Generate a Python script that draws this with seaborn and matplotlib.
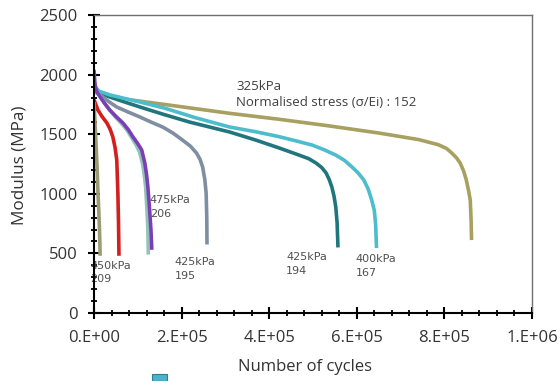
import numpy as np
import pandas as pd
import matplotlib
matplotlib.use("Agg")
import matplotlib.pyplot as plt
from matplotlib.patches import Rectangle
from matplotlib.ticker import MultipleLocator
import seaborn as sns

# ---- data (cycles, modulus MPa) ----
olivegray_x = [0, 1500, 3500, 5500, 7500, 9000, 11000, 12500, 13600, 14000]
olivegray_y = [1770, 1660, 1500, 1350, 1180, 1010, 850, 700, 560, 480]

red_x = [0, 3000, 9000, 18000, 29500, 37000, 43000, 48000, 52000, 54500, 56000, 57000]
red_y = [1790, 1760, 1703, 1650, 1594, 1540, 1477, 1390, 1284, 1007, 750, 480]

purple_x = [0, 2300, 6000, 13600, 24000, 36000, 50000, 66000, 78000, 89000, 100000, 109000,
            116000, 120000, 123000, 127000, 130000, 132000]
purple_y = [2040, 1913, 1860, 1815, 1760, 1703, 1650, 1594, 1540, 1477, 1420, 1367,
            1258, 1160, 1057, 864, 700, 530]

paleteal_x = [0, 3000, 8000, 15000, 25000, 36000, 50000, 64000, 76000, 86000, 96000, 104000,
              111000, 115000, 118000, 121000, 123000, 124000]
paleteal_y = [1950, 1890, 1850, 1810, 1755, 1700, 1640, 1585, 1530, 1470, 1410, 1350,
              1250, 1150, 1050, 860, 700, 490]

slate_x = [0, 8000, 20000, 35000, 52000, 78000, 105000, 130000, 157000, 180000, 202000, 220000,
           234000, 242000, 248000, 253000, 256000, 257500, 258000]
slate_y = [1880, 1840, 1812, 1770, 1728, 1686, 1644, 1602, 1560, 1510, 1451, 1400,
           1342, 1290, 1225, 1120, 1007, 800, 575]

darkteal_x = [0, 4000, 12000, 36000, 70000, 105000, 160000, 218000, 310000, 370000, 423000, 468000,
              490000, 507000, 520000, 530000, 537000, 543000, 548000, 552000, 555000, 557000]
darkteal_y = [1950, 1880, 1845, 1812, 1770, 1728, 1665, 1602, 1518, 1450, 1384, 1325,
              1295, 1258, 1220, 1174, 1120, 1057, 980, 889, 760, 550]

cyan_x = [0, 4000, 12000, 36000, 70000, 105000, 160000, 230000, 310000, 370000, 423000, 460000,
          498000, 525000, 552000, 572000, 589000, 603000, 616000, 626000, 634000, 640000, 643000, 645000]
cyan_y = [1940, 1890, 1860, 1830, 1800, 1770, 1720, 1640, 1560, 1520, 1479, 1445,
          1409, 1370, 1325, 1280, 1225, 1175, 1116, 1040, 948, 860, 740, 545]

olive_x = [85000, 150000, 230000, 310000, 423000, 536000, 650000, 741000, 786000, 805000, 816000,
           828000, 836000, 844000, 850000, 855000, 859000, 861000, 862000]
olive_y = [1787, 1755, 1715, 1675, 1625, 1570, 1510, 1455, 1412, 1380, 1345,
           1300, 1258, 1190, 1116, 1030, 948, 780, 612]

series = [
    ("olive", olive_x, olive_y, "#a8a060"),
    ("darkteal", darkteal_x, darkteal_y, "#21767e"),
    ("cyan", cyan_x, cyan_y, "#4cbdcc"),
    ("slate", slate_x, slate_y, "#7f8ea3"),
    ("paleteal", paleteal_x, paleteal_y, "#93c2ba"),
    ("purple", purple_x, purple_y, "#7b3fb5"),
    ("red", red_x, red_y, "#d41f1f"),
    ("olivegray", olivegray_x, olivegray_y, "#9c9c74"),
]

xtick_vals = [0, 200000, 400000, 600000, 800000, 1000000]
xtick_labels = ["0.E+00", "2.E+05", "4.E+05", "6.E+05", "8.E+05", "1.E+06"]
ytick_vals = [0, 500, 1000, 1500, 2000, 2500]

annotations = [
    ("325kPa", 325000, 1896),
    ("Normalised stress (σ/Ei) : 152", 325000, 1762),
]
small_labels = [
    ("475kPa\n206", 127000, 890),
    ("425kPa\n195", 184000, 370),
    ("425kPa\n194", 439000, 411),
    ("400kPa\n167", 598000, 395),
    ("450kPa\n209", -9000, 340),
]

# ---- plot ----
sns.set_style("white")
plt.rcParams["font.family"] = ["Open Sans", "DejaVu Sans"]

fig = plt.figure(figsize=(5.6, 3.81), dpi=100)
ax = fig.add_axes([94 / 560, 1 - 313 / 381, 438 / 560, 298 / 381])

for name, xs, ys, col in series:
    df = pd.DataFrame({"x": xs, "y": ys})
    sns.lineplot(data=df, x="x", y="y", color=col, lw=2.6, sort=False,
                 estimator=None, ax=ax, solid_capstyle="butt", solid_joinstyle="round")

ax.set_xlim(0, 1000000)
ax.set_ylim(0, 2500)
ax.set_xticks(xtick_vals)
ax.set_xticklabels(xtick_labels)
ax.set_yticks(ytick_vals)
ax.xaxis.set_minor_locator(MultipleLocator(40000))
ax.yaxis.set_minor_locator(MultipleLocator(100))

ax.tick_params(axis="both", which="major", direction="inout", length=8, width=1.5,
               color="black", labelsize=12, labelcolor="#333333", pad=8)
ax.tick_params(axis="both", which="minor", direction="inout", length=5, width=1.3,
               color="black")
ax.tick_params(left=True, bottom=True, which="both")

for s in ["left", "bottom"]:
    ax.spines[s].set_color("black")
    ax.spines[s].set_linewidth(1.5)
for s in ["top", "right"]:
    ax.spines[s].set_color("#707070")
    ax.spines[s].set_linewidth(1.0)

ax.set_ylabel("Modulus (MPa)", fontsize=12.3, color="#333333")
ax.set_xlabel("Number of cycles", fontsize=12, color="#333333")
ax.yaxis.set_label_coords(-0.152, 0.497)
ax.xaxis.set_label_coords(0.482, -0.155)

for txt, x, y in annotations:
    ax.text(x, y, txt, fontsize=9.5, color="#404040", ha="left", va="center")
for txt, x, y in small_labels:
    ax.text(x, y, txt, fontsize=8, color="#505050", ha="left", va="center",
            family="DejaVu Sans", linespacing=1.45, zorder=1)

fig.patches.append(Rectangle((152 / 560, 0), 15 / 560, 7 / 381, transform=fig.transFigure,
                             facecolor="#4bb3c9", edgecolor="#2b7f90", lw=0.8))

fig.savefig("out.png", dpi=100)
